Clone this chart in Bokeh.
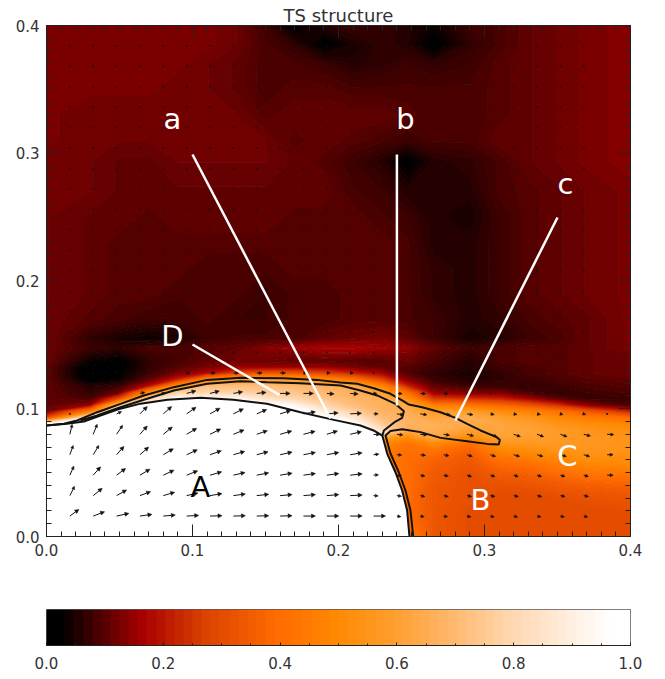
import numpy as np
from bokeh.core.properties import value
from bokeh.embed import file_html
from bokeh.layouts import column
from bokeh.models import (Arrow, ColumnDataSource, FixedTicker, LinearAxis,
                          LinearColorMapper, NormalHead, PrintfTickFormatter, Title)
from bokeh.plotting import figure
from bokeh.resources import INLINE

TITLE = "TS structure"
TICKS = [0.0, 0.1, 0.2, 0.3, 0.4]
CB_TICKS = [0.0, 0.2, 0.4, 0.6, 0.8, 1.0]
FONT = "DejaVu Sans"

# colour table
cmap_pos = [0.0, 0.02, 0.16, 0.27, 0.39, 0.49, 0.6, 0.7, 0.8, 0.9, 0.97, 1.0]
cmap_r = [0, 0, 170, 220, 255, 255, 255, 255, 255, 255, 255, 255]
cmap_g = [0, 0, 0, 68, 106, 136, 160, 185, 215, 238, 255, 255]
cmap_b = [0, 0, 0, 0, 0, 0, 48, 112, 176, 222, 255, 255]

# positions of the values
field_x = [0, .03, .05, .07, .09, .11, .13, .15, .17, .19, .21, .23, .247, .265, .29, .31, .33, .35, .37, .40]
lower_y = [0, .0075, .0125, .0175, .0225, .0275, .0325, .0375, .0425, .0475, .0525, .0575, .0625, .0675, .0725,
           .0775, .0825, .0875, .0925, .0975, .1025, .1075, .1125, .1175, .1225, .1275, .1325, .1375, .1425, .1475]
upper_y = [.155, .17, .19, .21, .23, .25, .27, .294, .31, .33, .35, .37, .385, .40]

# field above y = 0.15, percent of full scale; first row is the top
upper_rows = [
    [12,12,12,12,12,12,11, 7, 1, 5, 7, 6, 5, 3, 7, 8,10,11,12,13],
    [12,12,12,12,12,12,11, 8, 6, 1, 4, 6, 5, 1, 6, 8,10,11,12,13],
    [12,12,12,12,12,11,10, 8, 8, 7, 5, 6, 7, 6, 7, 9,10,11,12,13],
    [12,12,12,12,11,11,10, 8, 9, 9, 8, 8, 8, 8, 8, 9,10,11,12,13],
    [12,11,11,11,11,11,11, 9,10,10,10,10, 9, 8, 8, 9,10,11,12,13],
    [12,11,11,11,11,11,11,11, 9,10, 9, 8, 7, 8, 8,10,10,11,12,13],
    [11,11,10,10,11,11,11,11,10, 9, 7, 5, 1, 5, 6, 8,10,11,12,13],
    [11,11,10,10,10,10,10,10,10,10, 8, 7, 5, 5, 5, 8, 9,10,11,12],
    [11,10,10, 9,10,10,10,10, 9, 9, 9, 8, 7, 5, 4, 7, 9,10,11,12],
    [11,10, 9, 9, 9, 9, 9, 9, 9, 9, 9, 9, 8, 5, 5, 7, 9,10,11,12],
    [11,10, 9, 9, 9, 8, 8, 8, 9, 9, 9, 9, 8, 6, 5, 7, 9,10,11,12],
    [11,10, 9, 9, 8, 8, 8, 7, 8, 8, 9, 9, 8, 6, 5, 7, 9,10,11,12],
    [11, 9, 8, 7, 7, 8, 7, 7, 8, 8, 9, 9, 8, 7, 5, 6, 8, 9,10,12],
    [11, 6, 4, 3, 4, 7, 8, 8, 8,10,11,12,10, 7, 4, 5, 7, 8,10,12],
]

# field below y = 0.15, percent; one list per column, bottom to top
lower_cols = [
    [100]*17 + [95,30,12,10,10,10,10,10,10,10,11,11,11],
    [100]*18 + [95,45,15,8,6,5,1,0,0,3,5,7],
    [100]*19 + [97,75,30,11,7,3,2,1,1,4,6],
    [100]*20 + [98,80,50,18,10,7,6,6,7,8],
    [100]*21 + [98,78,52,22,12,9,8,8,8],
    [100]*21 + [95,80,72,46,18,12,10,9,9],
    [100]*21 + [95,78,72,58,28,14,11,11,10],
    [100]*20 + [100,86,76,72,60,32,14,11,12,13],
    [100]*20 + [94,80,74,70,58,32,14,10,12,15],
    [100]*19 + [90,80,74,70,67,50,28,14,10,13,16],
    [100]*18 + [88,78,72,69,67,64,42,22,12,9,13,16],
    [45]*14 + [50,60] + [86,76,71,68,66,66,60,48,28,16,10,9,12,15],
    [45,42,40,40,40,40,40,40,40,40,40,40,40,41,42,50,62,68,68,66,64,52,40,22,13,9,9,11,12,14],
    [33,33,33,33,33,33,33,33,34,34,35,36,38,42,50,62,66,66,62,58,46,26,14,10,7,6,7,8,9,10],
    [30,30,30,30,30,31,31,31,31,31,32,33,34,36,40,50,58,64,66,60,42,24,12,7,5,4,5,5,6,7],
    [30,30,30,30,30,30,30,31,32,34,36,39,43,48,54,60,62,62,60,52,38,22,12,7,6,6,7,8,8,8],
    [30,30,30,30,30,30,30,31,33,35,38,41,46,51,56,60,61,60,56,48,32,16,8,6,7,8,8,9,9,9],
    [30,30,30,30,30,30,31,33,35,38,42,46,50,54,57,58,58,55,50,42,24,10,6,7,8,9,9,9,9,9],
    [30,30,30,30,30,31,32,34,37,41,45,49,53,55,56,56,55,52,46,34,14,7,7,8,9,10,10,10,10,10],
    [30,30,30,30,31,32,33,35,38,42,46,50,52,54,54,54,52,48,40,22,8,7,8,9,10,11,11,11,11,12],
]

# black contour lines
contour_outer_x = [0,.0119,.021,.0347,.0507,.0667,.0872,.110,.1329,.1626,.1854,.2014,.2128,.2242,.2356,.2436,.2482,.2573,.2699,.2801,.2881,.2973,.3082,.3105,.3098,.3018,.2881,.2699,.2562,.2436,.2356,.2322,.2356,.2413,.2459,.2493,.2512]
contour_outer_y = [.0869,.0882,.0908,.0973,.1038,.1104,.1169,.1226,.1242,.1239,.1226,.1205,.1195,.1161,.1117,.1065,.1033,.1012,.0973,.0929,.0882,.083,.0778,.0757,.072,.0725,.0746,.0772,.0817,.084,.0825,.079,.065,.0503,.036,.0204,0]
contour_inner_x = [.0233,.0347,.0507,.0667,.0872,.110,.1329,.1511,.174,.2014,.215,.2265,.239,.2448,.2436,.239,.2311,.23]
contour_inner_y = [.0908,.0947,.1012,.107,.1143,.1195,.1216,.1208,.12,.1182,.1143,.1104,.1038,.0981,.0929,.09,.083,.079]
region_a_x = [0,.014,.0256,.037,.0486,.0644,.0828,.1055,.128,.151,.174,.1968,.215,.224,.23,.2334,.239,.2436,.247,.2486]
region_a_y = [.0869,.0882,.09,.0947,.0994,.104,.107,.1086,.107,.1039,.0973,.0913,.0869,.083,.079,.0647,.0503,.036,.0204,0]

# white pointer lines: start x, start y, end x, end y
pointer_x0 = [.1, .24, .35, .1]
pointer_y0 = [.299, .299, .2497, .1503]
pointer_x1 = [.1945, .24, .28, .1595]
pointer_y1 = [.0924, .1025, .0908, .1108]

label_text = ["a", "b", "c", "D", "A", "B", "C"]
label_x = [.0863, .2459, .3555, .0863, .1055, .2973, .3568]
label_y = [.3272, .3272, .2763, .1573, .0384, .0282, .0634]
label_color = ["white", "white", "white", "white", "black", "white", "white"]

# velocity arrows in the eight lowest rows, in 1/4380 of an axis unit
arrow_dx = [
    [27,34,37,36,36,36,36,36,36,36,36,36,36,36,12,12,12,12,12,12,12,12,12,0],
    [14,27,30,32,34,34,36,36,36,36,36,36,36,14,14,14,14,14,14,14,14,14,14,0],
    [12,22,27,30,32,33,35,35,36,36,36,36,36,15,14,14,14,14,14,14,14,14,14,18],
    [10,17,22,26,30,32,34,34,34,36,36,36,36,16,15,16,16,16,16,18,18,18,18,18],
    [7,12,18,22,27,30,32,32,32,35,35,32,34,18,18,20,18,20,20,20,20,20,20,20],
    [3,3,15,22,25,28,30,30,30,32,36,34,34,14,20,20,20,18,12,10,10,8,6,2],
    [2,3,3,15,6,28,28,28,28,30,30,22,24,10,16,16,14,8,3,2,2,2,2,0],
    [2,2,2,2,2,10,16,16,16,16,10,10,10,3,3,3,2,2,2,2,2,2,2,0],
]
arrow_dy = [
    [20,13,8,5,3,2,1,1,1,1,0,0,0,0,-2,-2,-2,-3,-3,-3,-3,-3,-3,0],
    [28,22,17,12,10,8,6,5,4,3,3,3,2,-1,-2,-3,-3,-3,-3,-3,-3,-3,-3,0],
    [27,25,20,18,15,13,10,8,7,6,5,5,4,1,-2,-3,-3,-4,-4,-4,-4,-4,-4,0],
    [28,28,25,23,18,15,12,10,9,8,7,7,6,2,-1,-2,-3,-5,-5,-5,-5,-5,-5,0],
    [30,30,27,25,22,18,16,13,11,10,9,10,8,-1,-2,-2,-3,-5,-7,-7,-7,-7,-5,-1],
    [0,1,7,22,22,20,17,15,13,10,6,3,2,0,-3,-3,-3,-3,-2,-2,-2,-2,-2,0],
    [0,0,0,3,1,8,7,5,3,0,0,-2,-2,0,-1,-1,-1,-1,0,0,0,0,0,0],
    [0,0,0,0,0,0,0,0,0,0,0,0,0,0,0,0,0,0,0,0,0,0,0,0],
]
GRID_STEP = 0.016


def table_colour(s):
    return "#%02x%02x%02x" % (int(np.interp(s, cmap_pos, cmap_r)),
                              int(np.interp(s, cmap_pos, cmap_g)),
                              int(np.interp(s, cmap_pos, cmap_b)))


levels = [i / 128 for i in range(128)] + [1.01]
fill_palette = [table_colour((a + b) / 2) for a, b in zip(levels[:-1], levels[1:])]
line_palette = [table_colour(min(a, 1.0)) for a in levels]
ramp_palette = [table_colour(i / 63) for i in range(64)]
mapper = LinearColorMapper(palette=ramp_palette, low=0, high=1)


def style_axis(ax, major, minor, major_len, minor_len):
    ax.ticker = FixedTicker(ticks=major, minor_ticks=minor)
    ax.major_tick_in = major_len
    ax.major_tick_out = 0
    ax.minor_tick_in = minor_len
    ax.minor_tick_out = 0
    ax.major_tick_line_color = "#222222"
    ax.minor_tick_line_color = "#222222"
    ax.axis_line_color = "#222222"
    ax.major_label_text_font = FONT
    ax.major_label_text_font_size = "15px"
    ax.major_label_text_color = "#333333"
    ax.major_label_standoff = 7
    ax.formatter = PrintfTickFormatter(format="%.1f")


def box_axes(fig, major, minor, major_len, minor_len):
    for ax in list(fig.xaxis) + list(fig.yaxis):
        style_axis(ax, major, minor, major_len, minor_len)
    for side in ("above", "right"):
        extra = LinearAxis()
        style_axis(extra, major, minor, major_len, minor_len)
        extra.major_label_overrides = {t: "" for t in major}
        extra.major_label_standoff = 0
        extra.major_label_text_font_size = "1px"
        fig.add_layout(extra, side)


p = figure(width=657, height=576, x_range=(0, 0.4), y_range=(0, 0.4),
           output_backend="svg", toolbar_location=None,
           min_border_left=46, min_border_right=27, min_border_top=25, min_border_bottom=40,
           title=Title(text=TITLE, align="center", text_font=FONT, text_font_size="18px",
                       text_font_style="normal", text_color="#333333", standoff=0, text_line_height=1.0))
p.grid.visible = False
p.outline_line_color = None

upper = np.array(upper_rows[::-1], dtype=float) / 100
lower = np.array(lower_cols, dtype=float).T / 100
field = np.vstack([lower, upper])
field_y = lower_y + upper_y
p.contour(field_x, field_y, field, levels, fill_color=fill_palette,
          line_color=line_palette, line_width=1.3)
p.patch(region_a_x + [0], region_a_y + [0], fill_color="white", line_color=None)
p.line(contour_outer_x, contour_outer_y, line_color="#111111", line_width=2)
p.line(contour_inner_x, contour_inner_y, line_color="#111111", line_width=2)
p.line(region_a_x, region_a_y, line_color="#111111", line_width=2)

long_src = dict(x0=[], y0=[], x1=[], y1=[])
short_src = dict(x0=[], y0=[], x1=[], y1=[])
dot_x, dot_y = [], []
for r, (row_x, row_y) in enumerate(zip(arrow_dx, arrow_dy), start=1):
    for c, (dx, dy) in enumerate(zip(row_x, row_y), start=1):
        if dx > 3:
            target = long_src if dx > 21 else short_src
            target["x0"].append(c * GRID_STEP)
            target["y0"].append(r * GRID_STEP)
            target["x1"].append(c * GRID_STEP + dx / 4380)
            target["y1"].append(r * GRID_STEP + dy / 3832.5)
        elif dx > 0:
            dot_x.append(c * GRID_STEP)
            dot_y.append(r * GRID_STEP)
for r in range(9, 25):
    for c in range(1, 24):
        dot_x.append(c * GRID_STEP)
        dot_y.append(r * GRID_STEP)
p.scatter(dot_x, dot_y, marker="square", size=1.6, fill_color="#111111", line_color=None)
for data, head in ((long_src, 4), (short_src, 3)):
    p.add_layout(Arrow(source=ColumnDataSource(data), x_start="x0", y_start="y0", x_end="x1", y_end="y1",
                       line_color="#111111", line_width=1,
                       end=NormalHead(size=head, fill_color="#111111", line_color="#111111", line_width=0.5)))

p.segment(pointer_x0, pointer_y0, pointer_x1, pointer_y1, line_color="white", line_width=2.5, level="overlay")
lab = ColumnDataSource(dict(x=label_x, y=label_y, t=label_text, c=label_color))
p.text("x", "y", text="t", source=lab, text_color="c", text_font=value(FONT),
       text_font_size="29px", text_align="center", text_baseline="middle", level="overlay")

box_axes(p, TICKS, [i / 100 for i in range(0, 41)], 12, 5)

ramp = np.linspace(0, 1, 256).reshape(1, 256)
cb = figure(width=657, height=95, x_range=(0, 1), y_range=(0, 1),
            output_backend="svg", toolbar_location=None,
            min_border_left=46, min_border_right=27, min_border_top=33, min_border_bottom=25)
cb.grid.visible = False
cb.outline_line_color = "#555555"
cb.image([ramp], x=0, y=0, dw=1, dh=1, color_mapper=mapper)
style_axis(cb.xaxis[0], CB_TICKS, [i / 20 for i in range(0, 21)], 3, 2)
cb.yaxis.visible = False
cb.xaxis[0].major_label_standoff = 11

page = column(p, cb, spacing=0)
open("out.html", "w").write(file_html(page, INLINE))
